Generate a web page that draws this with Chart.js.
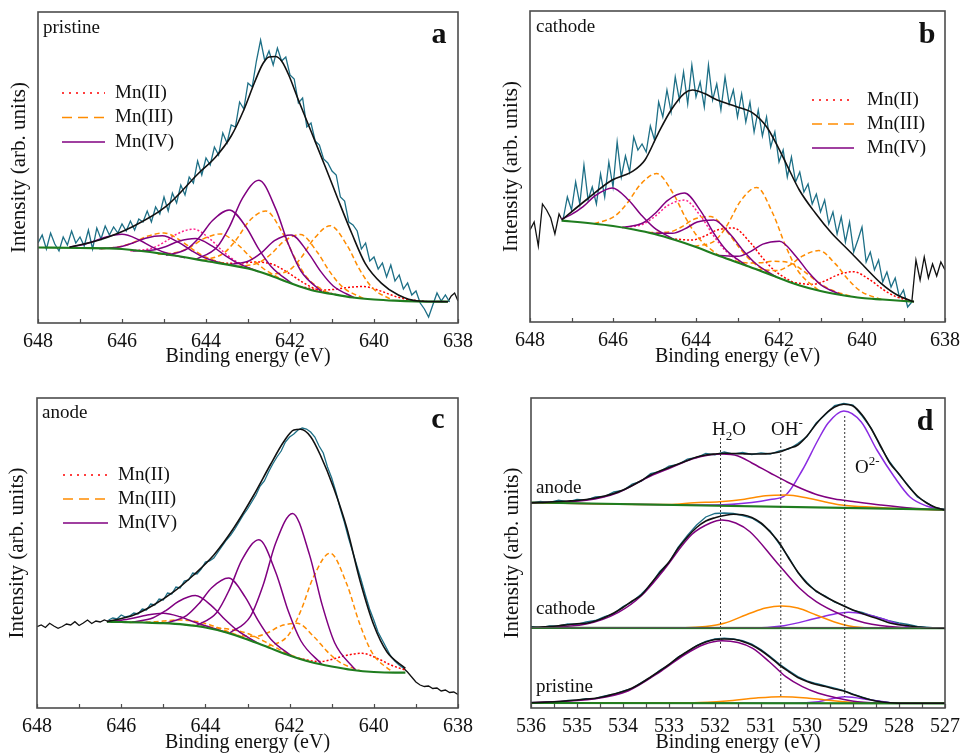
<!DOCTYPE html>
<html>
<head>
<meta charset="utf-8">
<title>Mn 2p3/2 and O 1s XPS</title>
<script src="https://cdn.jsdelivr.net/npm/chart.js@4.4.1/dist/chart.umd.min.js"></script>
<style>
  html, body { margin: 0; padding: 0; background: #fff; }
  #wrap { position: relative; width: 967px; height: 755px; overflow: hidden; }
  canvas { position: absolute; }
</style>
</head>
<body>
<div id="wrap">
  <canvas id="chart-a" width="480" height="375" style="left:0;top:0"></canvas>
  <canvas id="chart-b" width="480" height="375" style="left:487px;top:0"></canvas>
  <canvas id="chart-c" width="480" height="380" style="left:0;top:375px"></canvas>
  <canvas id="chart-d" width="480" height="380" style="left:487px;top:375px"></canvas>
</div>
<script>
// labels
const mnTickLabels = [648, 646, 644, 642, 640, 638];
const oTickLabels = [536, 535, 534, 533, 532, 531, 530, 529, 528, 527];
const stateNames = ['Mn(II)', 'Mn(III)', 'Mn(IV)'];
const sampleNames = ['pristine', 'cathode', 'anode'];
const panelLetters = ['a', 'b', 'c', 'd'];

// ---- panel a : pristine Mn 2p ----
const rawA = [80,88,74,90,79,72,86,78,92,80, 86,77,93,74,95,84,97,88,96,90,
  99,92,102,93,104,101,112,101,116,109, 126,112,130,120,138,128,146,140,162,148,
  165,158,176,168,190,180,198,196,221,214, 240,236,262,283,262,272,258,275,262,266,
  248,244,220,225,196,200,182,178,164,160, 152,148,126,122,101,98,92,74,80,62,
  66,54,60,46,58,42,48,34,40,28, 32,20,14,6,18,30,22,28,21];
const tailA = [[638.24,21.3],[638.16,27],[638.08,30],[638,22]];
const envA = [[647.25,75.7],[646.54,83],[645.75,96.3],[644.96,116.3],[644.17,150],[643.77,166],[643.4,187],[643.1,213],[642.85,240],[642.65,259],[642.5,266],[642.35,266.5],[642.2,262],[642.03,248],[641.8,223],[641.48,189.7],[641.16,156.3],[640.85,123],[640.53,89.7],[640.21,59.7],[639.82,39.7],[639.42,28],[638.95,22],[638.24,21.3]];
const baseA = [[648,75.5],[647,75],[646,74],[645,69],[644,62],[643,54.5],[642.5,48],[642,40],[641.5,33],[641,29],[640.5,25.5],[640,23.5],[639.5,22.3],[639,21.6],[638.24,21.3]];
const mnIIa = [
  [[645.8,72.1],[645.3,74.7],[645.0,80.6],[644.7,88.8],[644.3,93.9],[643.9,83.8],[643.6,71.8],[643.3,62],[642.8,52]],
  [[643.9,61.3],[643.4,59.7],[643.1,60.2],[642.8,61],[642.4,58.5],[642.0,49],[641.7,40.8],[641.4,34.2],[640.9,28.4]],
  [[641.75,36.6],[641.25,33],[640.95,33.6],[640.65,35.4],[640.25,36.5],[639.85,32.1],[639.55,27.4],[639.25,23.9],[638.75,21.5]]
];
const mnIIIa = [
  [[646.5,74.2],[646.0,76.7],[645.7,81],[645.4,86.7],[645.0,90],[644.6,82.3],[644.3,73.2],[644.0,65.7],[643.5,58.5]],
  [[645.15,68.9],[644.65,71],[644.35,76.5],[644.05,84.4],[643.65,89.1],[643.25,78.6],[642.95,66.3],[642.65,55],[642.15,42.5]],
  [[644.08,62.5],[643.58,69.8],[643.28,83.2],[642.98,101.5],[642.58,112.1],[642.18,90.3],[641.88,64.8],[641.58,44.7],[641.08,29.5]],
  [[643.25,56.5],[642.75,60.1],[642.45,69],[642.15,81.5],[641.75,88.5],[641.35,70.8],[641.05,51.1],[640.75,36],[640.25,24.5]],
  [[642.54,48.6],[642.04,52.2],[641.74,65],[641.44,83.6],[641.04,97.3],[640.64,77.5],[640.34,53.3],[640.04,35.2],[639.54,22.4]]
];
const mnIVa = [
  [[647.25,76],[647.0,77.7],[646.7,81.2],[646.4,85.8],[646.0,88.7],[645.6,83.3],[645.3,76.4],[645.0,70.7],[644.5,65.2]],
  [[646.54,74.3],[646.04,76.3],[645.74,80],[645.44,84.8],[645.04,87.2],[644.64,80.3],[644.34,72.2],[644.04,65.4],[643.54,58.8]],
  [[645.75,72],[645.25,73],[644.95,76.5],[644.65,81.8],[644.25,84.6],[643.85,76.8],[643.55,67.7],[643.25,60.1],[642.75,51.3]],
  [[644.95,67.7],[644.45,74.2],[644.15,86.1],[643.85,102.3],[643.45,113.1],[643.05,96.3],[642.75,74.4],[642.45,56.6],[641.95,39.3]],
  [[644.24,63.6],[643.74,75.8],[643.44,96.4],[643.14,124.2],[642.74,142.8],[642.34,114.1],[642.04,79],[641.74,52],[641.24,31]],
  [[643.47,58.3],[642.97,62.3],[642.67,70.6],[642.37,82.4],[641.97,88.1],[641.57,70.4],[641.27,51.6],[640.97,37],[640.47,25.4]]
];

// ---- panel b : cathode Mn 2p ----
const rawB = [103,125,112,140,118,157,122,135,118,148, 125,160,135,180,145,166,150,185,172,178,
  170,196,182,220,205,232,210,245,222,250, 218,257,225,240,215,257,222,238,212,245,
  218,232,205,228,200,220,190,212,186,205, 175,190,160,172,145,165,140,150,130,138,
  118,128,110,122,98,110,88,105,80,100, 70,82,95,60,70,52,62,40,50,35,
  44,25,32,15,20];
const headB = [[648,92],[647.9,100],[647.8,76],[647.7,118],[647.6,112],[647.5,104],[647.4,88],[647.3,108],[647.24,103]];
const tailB = [[638.8,20],[638.7,62],[638.6,42],[638.5,65],[638.4,44],[638.3,58],[638.2,46],[638.1,60],[638,52]];
const envB = [[647.24,102],[646.65,122],[646.02,142],[645.54,150.3],[645.23,162],[644.91,188.7],[644.6,212],[644.28,228.7],[644.08,232],[643.81,228.7],[643.49,222],[643.02,215.3],[642.62,208.7],[642.3,195.3],[642.07,178.7],[641.83,158.7],[641.51,132],[641.12,108.7],[640.73,88.7],[640.33,72],[639.94,55.3],[639.54,38.7],[639.15,27],[638.75,20.3]];
const baseB = [[647.24,101.3],[647,100.5],[646.5,98.5],[646,96],[645.5,92.5],[645,88],[644.5,82],[644,75],[643.5,67],[643,59.5],[642.5,52],[642,44],[641.5,36.5],[641,31],[640.5,27],[640,24],[639.5,22.5],[639,21],[638.75,20.3]];
const mnIIb = [
  [[645.78,94.5],[645.28,97.8],[644.98,105.9],[644.68,116.5],[644.28,121.9],[643.88,105.4],[643.58,86.4],[643.28,71],[642.78,56.2]],
  [[644.6,83.3],[644.1,82],[643.8,85.7],[643.5,91.8],[643.1,94],[642.7,79.8],[642.4,64.3],[642.1,51.2],[641.6,38]],
  [[641.71,39.7],[641.21,37.6],[640.91,40.8],[640.61,46.7],[640.21,50.3],[639.81,42.2],[639.51,33],[639.21,25.9],[638.75,20.3]]
];
const mnIIIb = [
  [[646.45,98.3],[645.95,106.1],[645.65,119.2],[645.35,137],[644.95,148.4],[644.55,128.5],[644.25,104.1],[643.95,84.6],[643.45,66.2]],
  [[645.15,89.5],[644.65,90],[644.35,95],[644.05,102.8],[643.65,105.5],[643.25,90.3],[642.95,73.9],[642.65,60.4],[642.15,46.4]],
  [[644.04,75.6],[643.54,81.5],[643.24,97.4],[642.94,120.1],[642.54,134.6],[642.14,107.7],[641.84,76],[641.54,51],[641.04,31.4]],
  [[643.25,63.3],[642.75,59],[642.45,59.2],[642.15,60.7],[641.75,59.3],[641.35,49.2],[641.05,39.4],[640.75,32.2],[640.25,25.5]],
  [[642.54,52.6],[642.04,51.4],[641.74,56.9],[641.44,65.8],[641.04,71.4],[640.64,58.1],[640.34,42.8],[640.04,31],[639.54,22.6]]
];
const mnIVb = [
  [[647.24,103],[647.02,107.1],[646.72,115.4],[646.42,126.6],[646.02,134.1],[645.62,121.8],[645.32,107.1],[645.02,94.7],[644.52,82.3]],
  [[645.78,94.5],[645.28,99],[644.98,108.8],[644.68,121.7],[644.28,128.9],[643.88,110.6],[643.58,89.3],[643.28,72.2],[642.78,56.2]],
  [[645.07,88.8],[644.57,88.7],[644.27,93.1],[643.97,100],[643.57,102.1],[643.17,87.5],[642.87,71.8],[642.57,58.8],[642.07,45.1]],
  [[643.49,66.8],[642.99,65.7],[642.69,70.4],[642.39,77.9],[641.99,80.8],[641.59,65.6],[641.29,49.7],[640.99,37.2],[640.49,26.9]]
];

// ---- panel c : anode Mn 2p ----
const rawC = [88,90,89,93,91,92,95,94,99,98, 104,103,109,108,115,114,121,120,127,128,
  135,134,139,146,147,150,156,162,168,173, 179,186,193,199,206,213,222,227,236,244,
  251,257,266,271,274,278,280,279,276,271, 262,255,241,230,216,200,186,170,156,142,
  128,113,99,88,76,68,60,52,47,43, 40];
const headC = [81.3,83,80.5,84.7,82,79.7,81.5,84,83,86.3,82.5,85,88,84.5,87,86,88,86.5];
const tailC = [40,36,31,26,23,21.5,22,19.5,20,17,18,15.5,16,13.5];
const envC = [[646.34,86.3],[645.7,93],[645.23,103],[644.75,116.3],[644.28,133],[643.8,153],[643.33,179.7],[642.85,213],[642.46,243],[642.14,266.3],[641.9,278],[641.74,278.7],[641.5,271.3],[641.27,253],[640.95,219.7],[640.64,179.7],[640.32,126.3],[640.0,83],[639.69,56.3],[639.25,39.7]];
const baseC = [[646.34,86.3],[646,86],[645.5,85.5],[645,84.8],[644.5,83.3],[644,80.5],[643.5,75.5],[643,68.5],[642.5,60.5],[642,52.5],[641.5,46],[641,41.5],[640.5,38],[640,36],[639.5,35.3],[639.25,35.3]];
const mnIIc = [
  [[641.78,49.6],[641.28,46.4],[640.98,48.8],[640.68,52.4],[640.28,54.7],[639.88,48.9],[639.58,42.7],[639.25,38]]
];
const mnIIIc = [
  [[645.8,85.6],[645.3,86],[645.0,86.9],[644.7,88],[644.3,87.2],[643.9,83.3],[643.6,78.6],[643.3,73.9],[642.8,66.1]],
  [[644.5,83.3],[644.0,81.5],[643.7,80],[643.4,78.6],[643.0,74.5],[642.6,66.6],[642.3,59.8],[642.0,53.5],[641.5,46]],
  [[643.32,73],[642.82,71.6],[642.52,75.3],[642.22,81.9],[641.82,84.7],[641.42,71.2],[641.12,57.1],[640.82,46.1],[640.32,37.3]],
  [[642.54,61.1],[642.04,72.3],[641.74,96.6],[641.44,130.3],[641.04,154.8],[640.64,123.7],[640.34,84.8],[640.04,55.3],[639.54,35.3]]
];
const mnIVc = [
  [[646.34,86.7],[646.0,87.7],[645.7,89.9],[645.4,92.8],[645.0,94.8],[644.6,91.2],[644.3,86.5],[644.0,82.2],[643.5,75.5]],
  [[645.74,85.7],[645.24,90.3],[644.94,97.4],[644.64,106.5],[644.24,112.4],[643.84,101.7],[643.54,88.8],[643.24,77.6],[642.74,64.4]],
  [[644.95,84.7],[644.45,92.4],[644.15,104.5],[643.85,120.3],[643.45,130],[643.05,110.6],[642.75,87.6],[642.45,69.1],[641.95,51.8]],
  [[644.23,82],[643.73,95.5],[643.43,118.4],[643.13,148.3],[642.73,168.2],[642.33,135.8],[642.03,96.7],[641.73,67],[641.23,43.5]],
  [[643.43,74.7],[642.93,91.7],[642.63,122.7],[642.33,165],[641.93,194.6],[641.53,153.6],[641.23,103.6],[640.93,65.3],[640.43,37.7]]
];

// ---- panel d : O 1s, anode / cathode / pristine (scan 536 -> 527, 0.2 eV) ----
const envDa = [205.3,205.5,206,206.5,207,207.5,208.5,210,212,214.5,218,222.5,227.5,233,237,240.5,244,247.5,251,253,254,254.7,254.5,254.2,254,254,254.5,256,259.5,263,272,284,294,301,303.7,302,293,279,262,245,234,222,212,205,200.5,198];
const rawDa = [204.5,206.5,205.5,207.8,206.2,208.5,207.8,211.2,211.5,216,217.5,224,226.8,234.5,236.5,242,243.5,249,250.5,254.5,253.2,256,253.8,255.5,253.5,255.2,254,257.2,258.8,264.5,271.5,285,293.5,302.5,304.5,303,292,279.5,261,246,233.5,222.5,211,205.5,200,198.5];
const envDc = [80.7,81,81.5,82.3,83.3,84.2,84.7,87,90.5,95,100.5,107,113,124,135.3,146,159.7,171,180.5,187,190.3,192.5,193.8,193.2,190.5,185,176,165,150,136,124.5,117,111.3,106.5,102,98,94.5,91.3,88.3,85,83.3,82.3,81,80.3,80,79.7];
const rawDc = [81.5,80.2,82,81.8,84,83.6,86,87.5,91.5,94.2,101.5,106.2,114,123.2,136.5,145.5,161,172.5,183,191,194.5,195,194.5,192.5,190,184.2,177,164,151,135.5,125.5,116.2,112,105.8,102.5,97.5,95.5,92.5,90,87,85,83.5,81.5,80.8,80,79.7];
const envDp = [5.3,5.6,6,6.5,7.2,8,9,9.7,11.5,14,16.5,20,25,31,37.2,43.5,50.5,56.5,62,66,68.5,69,68.7,66.5,63,57.5,50.7,43,36.5,30.5,26.5,23.5,21.5,19,17,13.5,10.5,8,6.3,5.3,4.8,4.7,4.7,4.7,4.7,4.7];
const rawDp = [5.5,5.2,6.4,6.2,7.6,7.8,9.4,9.5,12,13.6,17,19.6,25.5,30.6,37.8,43.2,51,56.2,62.5,66.6,69.2,69.8,69.2,67.4,64,58.5,51.5,44,37.4,31.5,27.2,24.5,22.2,19.8,17.5,14,10.8,8.2,6.5,5.4,4.9,4.7,4.7,4.7,4.7,4.7];
const baseDa = [[536,205.5],[527,198.3]];
const baseDc = [[536,80.2],[527,79.8]];
const baseDp = [[536,5],[527,4.7]];
const h2oD = [
  [[536,205.3],[534.8,207.8],[534.1,215.5],[533.4,232],[532.95,240.5],[532.5,249],[532.1,253.3],[531.85,254],[531.5,252],[531.2,245],[530.8,235],[530.43,226],[530.1,219],[529.76,213],[529.4,209],[529,206.5],[528.4,203],[527.7,199.7],[527,198]],
  [[536,80],[534.8,84],[534.1,95.7],[533.6,112.3],[533.17,134.7],[532.5,173.7],[532.1,185],[531.85,188],[531.55,185],[531.24,176.3],[530.67,146.3],[530.16,119.7],[529.8,106.3],[529.24,93],[528.75,85.3],[528,80.7],[527,79.7]],
  [[536,5.3],[534.6,9.3],[533.88,17.3],[533.17,37],[532.67,53],[532.24,63.5],[531.85,67.3],[531.5,65.5],[531.18,59.7],[530.82,46.3],[530.46,31.3],[530.1,21.3],[529.75,14.7],[529.32,9.7],[528.9,6.3],[528.2,4.9],[527,4.7]]
];
const ohD = [
  [[536,205.3],[533,203.5],[532.45,205.2],[531.9,206.3],[531.4,208.5],[530.9,212.3],[530.45,213],[529.97,209.7],[529.6,206],[529.25,203],[528.55,200.7],[527.8,199],[527,198]],
  [[536,80],[532.65,80.3],[532.2,81.5],[531.8,84.7],[531.24,94.7],[530.9,100],[530.55,102],[530.2,100],[529.8,93],[529.24,83.7],[528.75,80.3],[527,79.7]],
  [[536,5],[532.46,5.3],[531.75,7],[531.1,10],[530.57,11.3],[530,10],[529.6,8],[528.9,5.3],[527,4.7]]
];
const o2D = [
  [[536,205.3],[532,203],[531.2,205.5],[530.8,208.5],[530.46,213],[530.1,238],[529.76,268],[529.54,285],[529.2,297],[528.82,286],[528.48,258],[528.1,231],[527.76,211],[527.4,202],[527,198.5]],
  [[536,80],[531.24,79.8],[530.5,82.3],[529.8,89.7],[529.4,94],[529.1,95.7],[528.75,94],[528.4,89.7],[527.8,81.3],[527.45,80],[527,79.7]],
  [[536,4.8],[530.3,4.8],[529.75,6.3],[529.18,11.3],[528.61,8],[528.18,5.3],[527.6,4.7],[527,4.7]]
];
const markerEnergies = [531.88, 530.57, 529.18];
const markerTop = [270, 266, 292];
const markerBottom = [60, 11, 11];

const FONT = "'Liberation Serif', 'Times New Roman', serif";
Chart.defaults.font.family = FONT;
Chart.defaults.color = '#111';

const C = {teal: '#1d6f86', black: '#111', green: '#1f7d1f', purple: '#800080', orange: '#ff8c00',
  red: '#ff0000', pink: '#ff1f8c', violet: '#8a2be2', grey: '#333'};

const scan = (start, step, ys) => ys.map((y, i) => [+(start - i * step).toFixed(2), y]);
const smooth = {cubicInterpolationMode: 'monotone'};

function ds(arr, color, extra) {
  return Object.assign({
    data: arr.map(([x, y]) => ({x, y})),
    borderColor: color, borderWidth: 1.5, pointRadius: 0, pointHoverRadius: 0, fill: false, tension: 0
  }, extra || {});
}

function mnDatasets(env, base, ii, iii, iv, raw, extras, pinkIdx) {
  const out = [ds(env, C.black, Object.assign({borderWidth: 1.6}, smooth)),
               ds(base, C.green, Object.assign({borderWidth: 2.2}, smooth))];
  iv.forEach(d => out.push(ds(d, C.purple, smooth)));
  iii.forEach(d => out.push(ds(d, C.orange, Object.assign({borderDash: [5, 3]}, smooth))));
  ii.forEach((d, i) => out.push(ds(d, i === pinkIdx ? C.pink : C.red, Object.assign({borderDash: [2, 2]}, smooth))));
  out.push(ds(raw, C.teal, {borderWidth: 1.3}));
  extras.forEach(t => out.push(ds(t, C.black, {borderWidth: 1.3})));
  return out;
}

const legendItems = [
  {label: stateNames[0], color: C.red, dash: [2, 5]},
  {label: stateNames[1], color: C.orange, dash: [10, 6]},
  {label: stateNames[2], color: C.purple, dash: []}
];

// frame, inward ticks, texts and legend
const deco = {
  id: 'deco',
  afterDatasetsDraw(chart, args, o) {
    const {ctx, chartArea: a, scales: {x, y}} = chart;
    ctx.save();
    (o.hlines || []).forEach(v => {
      const py = y.getPixelForValue(v);
      ctx.strokeStyle = '#555'; ctx.lineWidth = 1.2;
      ctx.beginPath(); ctx.moveTo(a.left, py); ctx.lineTo(a.right, py); ctx.stroke();
    });
    ctx.strokeStyle = '#4d4d4d'; ctx.lineWidth = 1.6;
    ctx.strokeRect(a.left, a.top, a.width, a.height);
    ctx.lineWidth = 1.2;
    x.ticks.forEach(t => {
      const px = Math.round(x.getPixelForValue(t.value)) + 0.5;
      ctx.beginPath(); ctx.moveTo(px, a.bottom); ctx.lineTo(px, a.bottom - 4); ctx.stroke();
    });
    ctx.fillStyle = '#111';
    ctx.textBaseline = 'alphabetic';
    (o.texts || []).forEach(t => {
      ctx.font = t.font;
      ctx.textAlign = t.right ? 'center' : 'left';
      ctx.fillText(t.text, t.right ? a.right - t.dx : a.left + t.dx, a.top + t.dy);
    });
    (o.rich || []).forEach(r => {
      let px = a.left + r.dx;
      ctx.textAlign = 'left';
      r.parts.forEach(p => {
        ctx.font = p.s ? `13px ${FONT}` : `19px ${FONT}`;
        const dy = p.s === 'sub' ? 5 : p.s === 'sup' ? -8 : 0;
        ctx.fillText(p.t, px, a.top + r.dy + dy);
        px += ctx.measureText(p.t).width;
      });
    });
    if (o.legend) {
      const L = o.legend;
      L.items.forEach((it, i) => {
        const py = a.top + L.dy + i * L.gap;
        ctx.strokeStyle = it.color; ctx.lineWidth = 1.5; ctx.setLineDash(it.dash);
        ctx.beginPath(); ctx.moveTo(a.left + L.x0, py); ctx.lineTo(a.left + L.x1, py); ctx.stroke();
        ctx.setLineDash([]);
        ctx.font = `19px ${FONT}`; ctx.textAlign = 'left'; ctx.textBaseline = 'middle';
        ctx.fillText(it.label, a.left + L.tx, py);
        ctx.textBaseline = 'alphabetic';
      });
    }
    ctx.restore();
  }
};

function makePanel(id, p) {
  return new Chart(document.getElementById(id), {
    type: 'line',
    data: {datasets: p.datasets},
    options: {
      responsive: false, animation: false, events: [],
      layout: {padding: {top: p.padTop, right: p.padRight, left: 0, bottom: 0}},
      plugins: {legend: {display: false}, tooltip: {enabled: false}, deco: p.deco},
      scales: {
        x: {
          type: 'linear', min: p.xMin, max: p.xMax, reverse: true,
          grid: {display: false, drawTicks: false}, border: {display: false},
          ticks: {
            stepSize: p.step, autoSkip: false, maxRotation: 0, padding: 7, color: '#111', font: {size: 20},
            callback: v => p.labels.some(l => Math.abs(l - v) < 1e-6) ? String(Math.round(v)) : ''
          },
          title: {display: true, text: 'Binding energy (eV)', color: '#111', font: {size: 20},
                  padding: {top: 0, bottom: p.xTitlePad}},
          afterFit: s => { s.height = p.xH; }
        },
        y: {
          min: 0, max: p.yMax,
          grid: {display: false, drawTicks: false}, border: {display: false},
          ticks: {display: false},
          title: {display: true, text: 'Intensity (arb. units)', color: '#111', font: {size: 21},
                  padding: {top: p.yTitlePad, bottom: 0}},
          afterFit: s => { s.width = p.yW; }
        }
      }
    },
    plugins: [deco]
  });
}

const labelFont = `19px ${FONT}`;
const letterFont = `bold 30px ${FONT}`;

makePanel('chart-a', {
  xMin: 638, xMax: 648, step: 1, labels: mnTickLabels, yMax: 311,
  padTop: 12, padRight: 20, yW: 38, xH: 52, yTitlePad: 7, xTitlePad: 6,
  datasets: mnDatasets(envA, baseA, mnIIa, mnIIIa, mnIVa, scan(648, 0.1, rawA), [tailA], 0),
  deco: {
    texts: [{text: sampleNames[0], font: labelFont, dx: 5, dy: 21},
            {text: panelLetters[0], font: letterFont, right: true, dx: 19, dy: 31}],
    legend: {items: legendItems, x0: 24, x1: 67, tx: 77, dy: 81, gap: 24.5}
  }
});

makePanel('chart-b', {
  xMin: 638, xMax: 648, step: 1, labels: mnTickLabels, yMax: 311,
  padTop: 11, padRight: 15, yW: 43, xH: 53, yTitlePad: 12, xTitlePad: 6,
  datasets: mnDatasets(envB, baseB, mnIIb, mnIIIb, mnIVb, scan(647.2, 0.1, rawB), [headB, tailB], 0),
  deco: {
    texts: [{text: sampleNames[1], font: labelFont, dx: 6, dy: 21},
            {text: panelLetters[1], font: letterFont, right: true, dx: 18, dy: 32}],
    legend: {items: legendItems, x0: 282, x1: 324, tx: 337, dy: 89, gap: 24}
  }
});

makePanel('chart-c', {
  xMin: 638, xMax: 648, step: 1, labels: mnTickLabels, yMax: 310,
  padTop: 23, padRight: 22, yW: 37, xH: 47, yTitlePad: 5, xTitlePad: 0,
  datasets: mnDatasets(envC, baseC, mnIIc, mnIIIc, mnIVc, scan(646.3, 0.1, rawC),
                       [scan(648, 0.1, headC), scan(639.3, 0.1, tailC)], -1),
  deco: {
    texts: [{text: sampleNames[2], font: labelFont, dx: 5, dy: 20},
            {text: panelLetters[2], font: letterFont, right: true, dx: 20, dy: 30}],
    legend: {items: legendItems, x0: 26, x1: 71, tx: 81, dy: 77, gap: 24}
  }
});

// panel d datasets
const dSets = [];
markerEnergies.forEach((e, i) => dSets.push(ds([[e, markerTop[i]], [e, markerBottom[i]]], C.grey, {borderWidth: 1, borderDash: [2, 2]})));
[envDa, envDc, envDp].forEach(v => dSets.push(ds(scan(536, 0.2, v), C.black, Object.assign({borderWidth: 1.6}, smooth))));
[baseDa, baseDc, baseDp].forEach(b => dSets.push(ds(b, C.green, {borderWidth: 2.2})));
h2oD.forEach(d => dSets.push(ds(d, C.purple, smooth)));
ohD.forEach(d => dSets.push(ds(d, C.orange, smooth)));
o2D.forEach(d => dSets.push(ds(d, C.violet, smooth)));
[rawDa, rawDc, rawDp].forEach(v => dSets.push(ds(scan(536, 0.2, v), C.teal, {borderWidth: 1.3})));

makePanel('chart-d', {
  xMin: 527, xMax: 536, step: 0.5, labels: oTickLabels, yMax: 310,
  padTop: 23, padRight: 15, yW: 44, xH: 47, yTitlePad: 13, xTitlePad: 0,
  datasets: dSets,
  deco: {
    hlines: [80.3],
    texts: [{text: sampleNames[2], font: labelFont, dx: 5, dy: 95},
            {text: sampleNames[1], font: labelFont, dx: 5, dy: 216},
            {text: sampleNames[0], font: labelFont, dx: 5, dy: 294},
            {text: panelLetters[3], font: letterFont, right: true, dx: 20, dy: 32}],
    rich: [
      {dx: 181, dy: 37, parts: [{t: 'H'}, {t: '2', s: 'sub'}, {t: 'O'}]},
      {dx: 240, dy: 37, parts: [{t: 'OH'}, {t: '-', s: 'sup'}]},
      {dx: 324, dy: 75, parts: [{t: 'O'}, {t: '2-', s: 'sup'}]}
    ]
  }
});
</script>
</body>
</html>
